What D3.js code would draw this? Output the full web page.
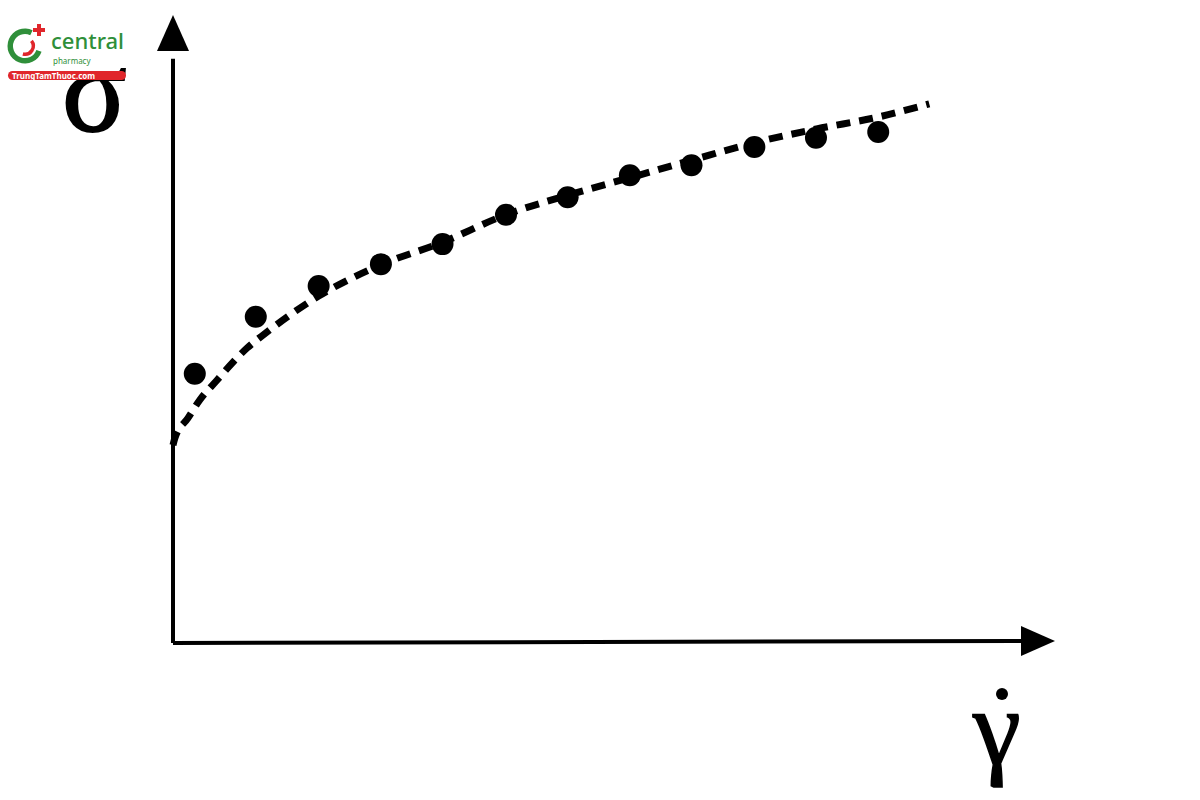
<!DOCTYPE html>
<html><head><meta charset="utf-8">
<script src="https://cdn.jsdelivr.net/npm/d3@7"></script>
<style>body{margin:0;background:#fff}svg{display:block}.serif{font-family:'Liberation Serif','Times New Roman',serif}</style>
</head><body>
<script>
// Measured data (arbitrary units: shear rate vs shear stress)
const pointX = [0.35, 1.33, 2.34, 3.34, 4.33, 5.35, 6.34, 7.34, 8.33, 9.34, 10.33, 11.33];
const pointY = [4.27, 5.18, 5.67, 6.02, 6.34, 6.81, 7.09, 7.44, 7.60, 7.89, 8.04, 8.13];
const curveX = [0, 0.03, 0.24, 0.43, 0.71, 0.95, 1.19, 1.49, 2.34, 3.34, 4.33, 5.35, 6.34, 7.34, 8.33, 9.34, 10.34, 11.33, 12.15];
const curveY = [3.13, 3.24, 3.56, 3.85, 4.17, 4.44, 4.68, 4.92, 5.51, 6.01, 6.37, 6.81, 7.12, 7.40, 7.68, 7.96, 8.18, 8.37, 8.58];
const xLabel = "γ";
const yLabel = "σ";

const W = 1200, H = 800;
const svg = d3.select("body").append("svg").attr("width", W).attr("height", H);

const x = d3.scaleLinear().domain([0, 14.17]).range([173, 1055]);
const y = d3.scaleLinear().domain([0, 10]).range([641, 15]);

// dashed fitted curve
const line = d3.line().x((d, i) => x(curveX[i])).y((d, i) => y(curveY[i])).curve(d3.curveMonotoneX);
svg.append("path").datum(curveX).attr("d", line)
  .attr("fill", "none").attr("stroke", "#000").attr("stroke-width", 7)
  .attr("stroke-dasharray", "14,9");

// points
svg.selectAll("circle.pt").data(pointX).join("circle").attr("class", "pt")
  .attr("cx", (d) => x(d)).attr("cy", (d, i) => y(pointY[i])).attr("r", 11).attr("fill", "#000");

// axes
const x0 = x(0), y0 = y(0);
svg.append("line").attr("x1", x0).attr("y1", y0 + 2).attr("x2", x(13.7)).attr("y2", y0)
  .attr("stroke", "#000").attr("stroke-width", 4);
svg.append("line").attr("x1", x0).attr("y1", y0 + 2).attr("x2", x0).attr("y2", y(9.3))
  .attr("stroke", "#000").attr("stroke-width", 4);
// arrowheads
const xe = x(14.17);
svg.append("path").attr("d", `M${xe},${y0} L${xe - 34},${y0 - 15} L${xe - 34},${y0 + 15} Z`).attr("fill", "#000");
const ye = y(10);
svg.append("path").attr("d", `M${x0},${ye} L${x0 - 16},${ye + 36} L${x0 + 16},${ye + 36} Z`).attr("fill", "#000");

// axis labels
svg.append("text").attr("class", "serif").attr("x", 62).attr("y", 131).text(yLabel)
  .attr("font-size", 120).attr("fill", "#000").attr("stroke", "#000").attr("stroke-width", 2);
svg.append("text").attr("class", "serif").attr("x", 973).attr("y", 764).text(xLabel)
  .attr("font-size", 108).attr("fill", "#000").attr("stroke", "#000").attr("stroke-width", 1.5);
svg.append("circle").attr("cx", 1002).attr("cy", 694).attr("r", 6).attr("fill", "#000");

// watermark logo
const g = svg.append("g");
const arc = d3.arc();
g.append("path").attr("transform", "translate(25,46)")
  .attr("d", arc({innerRadius: 12, outerRadius: 17.5, startAngle: 1.9, endAngle: 2 * Math.PI + 0.45}))
  .attr("fill", "#2f8f3a");
g.append("path").attr("transform", "translate(25,46)")
  .attr("d", arc({innerRadius: 6.5, outerRadius: 10, startAngle: 0.9, endAngle: 3.4}))
  .attr("fill", "#e0262b");
g.append("rect").attr("x", 37).attr("y", 24).attr("width", 4).attr("height", 12).attr("fill", "#e0262b");
g.append("rect").attr("x", 33).attr("y", 28).attr("width", 12).attr("height", 4).attr("fill", "#e0262b");
g.append("text").attr("x", 51).attr("y", 49).text("central")
  .attr("font-family", "Noto Sans, sans-serif").attr("font-size", 22).attr("font-weight", 500).attr("fill", "#2f8f3a");
g.append("text").attr("x", 53).attr("y", 64).text("pharmacy")
  .attr("font-family", "Noto Sans, sans-serif").attr("font-size", 8).attr("fill", "#2f8f3a");
g.append("rect").attr("x", 8).attr("y", 71).attr("width", 118).attr("height", 9).attr("rx", 4.5).attr("fill", "#e0262b");
g.append("text").attr("x", 12).attr("y", 79).text("TrungTamThuoc.com")
  .attr("font-family", "Noto Sans, sans-serif").attr("font-size", 8).attr("font-weight", 700).attr("fill", "#fff");
</script>
</body></html>
